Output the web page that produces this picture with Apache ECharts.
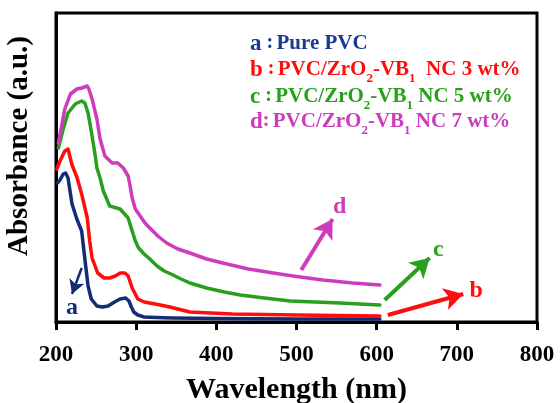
<!DOCTYPE html>
<html><head><meta charset="utf-8">
<script src="https://cdn.jsdelivr.net/npm/echarts/dist/echarts.min.js"></script>
<style>html,body{margin:0;padding:0;background:#fff}#c{width:560px;height:403px}</style>
</head><body><div id="c"></div>
<script>
// ---- data ----
const xTicks = [200, 300, 400, 500, 600, 700, 800];

const waveA = [202,205,209,212,215,220,226,232,236,240,244,251,258,265,273,280,287,291,294,297,302,310,325,345,400,500,604];
const absA  = [1.39,1.42,1.48,1.49,1.44,1.18,1.03,0.91,0.63,0.36,0.23,0.16,0.15,0.16,0.20,0.23,0.24,0.21,0.15,0.10,0.07,0.05,0.045,0.04,0.035,0.03,0.03];

const waveB = [201,205,211,215,220,226,232,239,242,245,252,260,267,274,280,286,290,295,302,310,317,330,342,367,420,500,604];
const absB  = [1.53,1.61,1.71,1.73,1.57,1.45,1.28,1.04,0.81,0.64,0.49,0.44,0.44,0.46,0.49,0.49,0.46,0.34,0.23,0.20,0.19,0.17,0.15,0.10,0.08,0.07,0.06];

const waveC = [203,209,215,224,232,236,240,245,249,251,255,259,267,280,290,295,299,303,310,317,326,335,346,356,367,388,410,430,460,492,554,604];
const absC  = [1.74,1.93,2.09,2.18,2.21,2.19,2.09,1.86,1.66,1.54,1.44,1.31,1.16,1.13,1.04,0.91,0.81,0.74,0.68,0.63,0.56,0.51,0.47,0.43,0.39,0.34,0.30,0.27,0.24,0.21,0.19,0.17];

const waveD = [203,211,218,226,232,239,241,245,251,255,261,270,277,284,290,292,295,299,305,311,317,327,338,352,367,388,408,440,471,500,533,570,604];
const absD  = [1.79,2.13,2.28,2.33,2.34,2.36,2.33,2.23,2.03,1.83,1.66,1.59,1.59,1.54,1.46,1.38,1.24,1.13,1.06,0.99,0.94,0.86,0.79,0.73,0.69,0.63,0.59,0.53,0.49,0.455,0.42,0.39,0.37];

// annotation arrows [tail, head] and letter label positions (data coords)
const arrowA = [[232, 0.54], [220, 0.28]]; const labelA = [220, 0.14];
const arrowB = [[614, 0.07], [708, 0.28]]; const labelB = [724, 0.31];
const arrowC = [[610, 0.22], [666, 0.64]]; const labelC = [677, 0.72];
const arrowD = [[506, 0.52], [545, 1.03]]; const labelD = [554, 1.15];

const names = ['Pure PVC', 'PVC/ZrO2-VB1  NC 3 wt%', 'PVC/ZrO2-VB1 NC 5 wt%', 'PVC/ZrO2-VB1 NC 7 wt%'];
const letters = ['a', 'b', 'c', 'd'];

// ---- styles ----
const FF = '"Liberation Serif", "Times New Roman", serif';
const colors = ['#142c72', '#ff0d0d', '#27a01c', '#cc3cbc'];
const legendColors = ['#1a3a94', '#ff0d0d', '#27a01c', '#cc3cbc'];
const arrowWidths = [2.5, 4, 4, 4];
const arrowHeads = [[12, 14], [17, 19], [17, 19], [17, 19]];

function pairs(w, a) { return w.map((x, i) => [x, a[i]]); }

function makeSeries(idx, w, a, arrow, label) {
  const color = colors[idx];
  return {
    name: names[idx], type: 'line', data: pairs(w, a), showSymbol: false,
    smooth: false,
    lineStyle: { color: color, width: 3.5, join: 'round', cap: 'round' }, itemStyle: { color: color },
    markLine: {
      silent: true, symbol: ['none', 'arrow'], symbolSize: arrowHeads[idx],
      lineStyle: { color: color, width: arrowWidths[idx], type: 'solid' },
      label: { show: false },
      data: [[{ coord: arrow[0] }, { coord: arrow[1] }]]
    },
    markPoint: {
      silent: true, symbol: 'circle', symbolSize: 1,
      itemStyle: { color: 'rgba(0,0,0,0)' },
      label: { show: true, position: 'inside', formatter: letters[idx], color: color,
        fontSize: 24, fontWeight: 'bold', fontFamily: FF },
      data: [{ coord: label }]
    }
  };
}

function richLine(i) {
  const n = names[i];
  let txt;
  if (i === 0) txt = '{t|' + n + '}';
  else {
    const m = n.match(/^(PVC\/ZrO)2(-VB)1(.*)$/);
    txt = '{t|' + m[1] + '}{sub|2}{t|' + m[2] + '}{sub|1}{t|' + m[3] + '}';
  }
  const sep = (i === 3) ? '{c|:} ' : '{c| :} ';
  return '{l|' + letters[i] + '}' + sep + txt;
}

const legendTops = [33, 59, 86, 111];
const graphics = legendTops.map((top, i) => ({
  type: 'text', left: 250, top: top, z: 10,
  style: {
    text: richLine(i),
    rich: {
      l: { fontSize: 23, fontWeight: 'bold', fontFamily: FF, fill: legendColors[i], lineHeight: 24, verticalAlign: 'top' },
      c: { fontSize: 20, fontWeight: 'bold', fontFamily: FF, fill: legendColors[i], lineHeight: 24, verticalAlign: 'top' },
      t: { fontSize: 21, fontWeight: 'bold', fontFamily: FF, fill: legendColors[i], lineHeight: 24, verticalAlign: 'top' },
      sub: { fontSize: 13, fontWeight: 'bold', fontFamily: FF, fill: legendColors[i], lineHeight: 13, verticalAlign: 'top', padding: [13, 0, 0, 0] }
    }
  }
}));
graphics.push({
  type: 'text', x: 20, y: 146, rotation: Math.PI / 2, z: 10,
  style: { text: 'Absorbance (a.u.)', fontSize: 29, fontWeight: 'bold', fontFamily: FF,
    fill: '#000', align: 'center', verticalAlign: 'middle' }
});

const chart = echarts.init(document.getElementById('c'), null, { renderer: 'canvas' });
chart.setOption({
  animation: false,
  backgroundColor: '#fff',
  grid: { left: 56, right: 23, top: 13, bottom: 81, containLabel: false, outerBoundsMode: 'none',
    show: true, borderColor: '#000', borderWidth: 3, backgroundColor: 'transparent' },
  xAxis: {
    type: 'value', min: xTicks[0], max: xTicks[xTicks.length - 1], interval: 100,
    axisLine: { show: true, lineStyle: { color: '#000', width: 3 } },
    axisTick: { show: true, inside: false, length: 8, lineStyle: { color: '#000', width: 3 } },
    axisLabel: { color: '#000', fontSize: 23, fontWeight: 'bold', fontFamily: FF, margin: 22 },
    splitLine: { show: false },
    name: 'Wavelength (nm)', nameLocation: 'middle', nameGap: 53,
    nameTextStyle: { color: '#000', fontSize: 30, fontWeight: 'bold', fontFamily: FF }
  },
  yAxis: {
    type: 'value', min: 0, max: 3.09,
    axisLine: { show: true, lineStyle: { color: '#000', width: 3 } },
    axisTick: { show: false }, axisLabel: { show: false }, splitLine: { show: false }
  },
  series: [
    makeSeries(0, waveA, absA, arrowA, labelA),
    makeSeries(1, waveB, absB, arrowB, labelB),
    makeSeries(2, waveC, absC, arrowC, labelC),
    makeSeries(3, waveD, absD, arrowD, labelD)
  ],
  graphic: graphics
});
</script>
</body></html>
